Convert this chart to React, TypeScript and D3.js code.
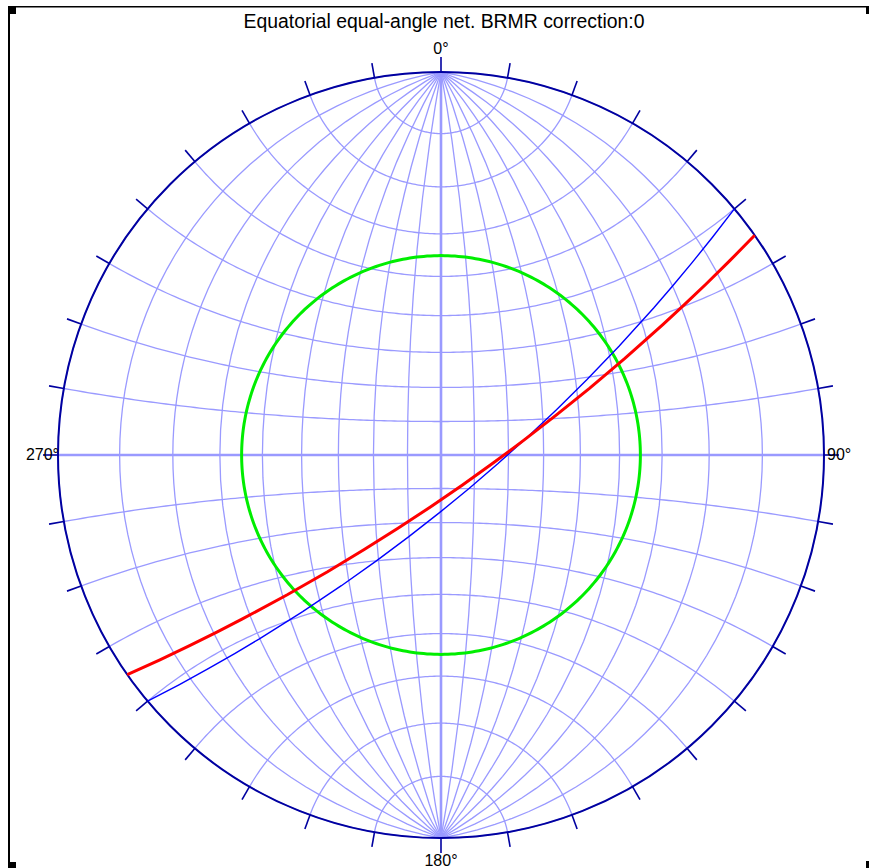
import React from 'react';
import * as d3 from 'd3';

// Canvas and net geometry
const WIDTH = 869;
const HEIGHT = 868;
const CX = 441;
const CY = 455;
const R = 383;
const TICK_LEN = 15;

const title = 'Equatorial equal-angle net. BRMR correction:0';

// Net grid: meridians (great circles) and parallels (small circles) every 10°
const gridStep: [number, number] = [10, 10];

// Azimuth ticks round the primitive
const tickAzimuths = d3.range(0, 360, 10);
const compassAzimuths = [0, 90, 180, 270];
const compassLabels = ['0°', '90°', '180°', '270°'];

// Planes plotted as great circles (strike, dip, right-hand rule)
const planeStrikes = [50, 55];
const planeDips = [77, 79];

// Cone round the vertical, given by the plunge of its generators
const conePlunges = [35];

const FONT = '"Liberation Sans", Arial, sans-serif';
const GRID = '#9a9aff';
const PRIMITIVE = '#0000a0';
const planeColors = ['#0000ff', '#ff0000'];
const planeWidths = [1.4, 3];
const coneColors = ['#00ee00'];

// Direction (trend, plunge downward, degrees) -> [lon, lat] on the net sphere,
// where the net centre is the vertical and the graticule poles are N and S.
function toLonLat(trend: number, plunge: number): [number, number] {
  const t = (trend * Math.PI) / 180;
  const p = (plunge * Math.PI) / 180;
  const e = Math.sin(t) * Math.cos(p);
  const n = Math.cos(t) * Math.cos(p);
  const d = Math.sin(p);
  return [(Math.atan2(e, d) * 180) / Math.PI, (Math.asin(Math.max(-1, Math.min(1, n))) * 180) / Math.PI];
}

export default function App() {
  const projection = d3
    .geoStereographic()
    .scale(R)
    .translate([CX, CY])
    .clipAngle(90.01)
    .precision(0.2);
  const path = d3.geoPath(projection);

  const graticule = d3
    .geoGraticule()
    .extent([
      [-180, -90],
      [180, 90],
    ])
    .step(gridStep)
    .precision(1);
  const gridLines = graticule.lines();

  const nsAxis = { type: 'LineString', coordinates: [[0, -90], [0, 0], [0, 90]] } as any;
  const ewAxis = { type: 'LineString', coordinates: [[-90, 0], [0, 0], [90, 0]] } as any;

  const planes = planeStrikes.map((s, i) => ({
    type: 'LineString',
    coordinates: [toLonLat(s, 0), toLonLat(s + 90, planeDips[i]), toLonLat(s + 180, 0)],
  })) as any[];

  const cones = conePlunges.map((p) => d3.geoCircle().center([0, 0]).radius(90 - p).precision(1)());

  const ticks = tickAzimuths.map((a) => {
    const [x0, y0] = projection(toLonLat(a, 0)) as [number, number];
    const ux = (x0 - CX) / R;
    const uy = (y0 - CY) / R;
    return { a, x0, y0, x1: x0 + ux * TICK_LEN, y1: y0 + uy * TICK_LEN };
  });

  const labelPos = compassAzimuths.map((a) => {
    const [x, y] = projection(toLonLat(a, 0)) as [number, number];
    if (a === 0) return { x, y: y - 18, anchor: 'middle' };
    if (a === 90) return { x: x + 3, y: y + 4.5, anchor: 'start' };
    if (a === 180) return { x, y: y + 28, anchor: 'middle' };
    return { x: x + 1, y: y + 4.5, anchor: 'end' };
  });

  return (
    <div style={{ position: 'absolute', left: 0, top: 0, width: WIDTH, height: HEIGHT, background: '#fff' }}>
      <svg width={WIDTH} height={HEIGHT} style={{ display: 'block' }}>
        <rect x={0} y={0} width={WIDTH} height={HEIGHT} fill="#fff" />

        {/* frame */}
        <line x1={9} y1={6} x2={9} y2={HEIGHT} stroke="#000" strokeWidth={2} />
        <line x1={8} y1={6.75} x2={866} y2={6.75} stroke="#000" strokeWidth={1.5} />
        <rect x={8} y={6} width={8} height={8} fill="#000" />
        <rect x={866} y={6} width={4} height={8} fill="#000" />
        <rect x={8} y={862} width={8} height={7} fill="#000" />
        <rect x={866} y={861} width={4} height={8} fill="#000" />

        <text x={444} y={27.5} textAnchor="middle" fontFamily={FONT} fontSize={19.4} fill="#000">
          {title}
        </text>

        {/* Wulff net grid */}
        <g fill="none" stroke={GRID} strokeWidth={1.3}>
          {gridLines.map((g, i) => (
            <path key={i} d={path(g as any) || ''} />
          ))}
        </g>
        <g fill="none" stroke={GRID} strokeWidth={2.6}>
          <path d={path(nsAxis) || ''} />
          <path d={path(ewAxis) || ''} />
        </g>

        {/* primitive and azimuth ticks */}
        <circle cx={CX} cy={CY} r={R} fill="none" stroke={PRIMITIVE} strokeWidth={2} />
        <g stroke={PRIMITIVE} strokeWidth={1.6}>
          {ticks.map((t) => (
            <line key={t.a} x1={t.x0} y1={t.y0} x2={t.x1} y2={t.y1} />
          ))}
        </g>

        {/* cone */}
        {cones.map((c, i) => (
          <path key={i} d={path(c as any) || ''} fill="none" stroke={coneColors[i]} strokeWidth={3} />
        ))}

        {/* planes */}
        {planes.map((p, i) => (
          <path key={i} d={path(p) || ''} fill="none" stroke={planeColors[i]} strokeWidth={planeWidths[i]} />
        ))}

        {/* compass labels */}
        <g fontFamily={FONT} fontSize={16} fill="#000">
          {compassLabels.map((l, i) => (
            <text key={l} x={labelPos[i].x} y={labelPos[i].y} textAnchor={labelPos[i].anchor as any}>
              {l}
            </text>
          ))}
        </g>
      </svg>
    </div>
  );
}
